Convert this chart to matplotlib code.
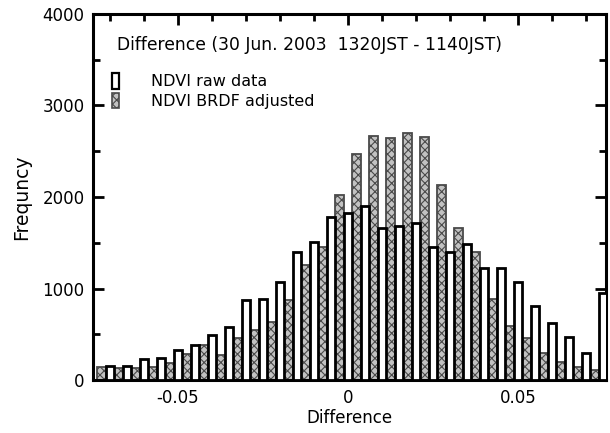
import numpy as np
import matplotlib.pyplot as plt
from matplotlib.patches import Patch

plt.rcParams['font.family'] = ['DejaVu Sans']
plt.rcParams['hatch.linewidth'] = 0.8

# bin centres (raw bars on the 0.005 grid, adjusted bars shifted half a bin)
raw_x = np.round(np.arange(-0.07, 0.0751, 0.005), 4)
adj_x = np.round(np.arange(-0.0725, 0.0726, 0.005), 4)

raw_counts = [150, 160, 230, 240, 330, 380, 490, 580, 870, 890,
              1070, 1400, 1505, 1780, 1825, 1900, 1665, 1680, 1720, 1455,
              1395, 1490, 1230, 1220, 1075, 810, 620, 470, 295, 950]
adj_counts = [140, 130, 130, 140, 185, 290, 380, 270, 460, 545,
              635, 875, 1260, 1450, 2020, 2470, 2670, 2640, 2700, 2660,
              2130, 1660, 1400, 890, 590, 465, 295, 195, 140, 110]

x_ticks = [-0.05, 0, 0.05]
x_ticklabels = ['-0.05', '0', '0.05']
y_ticks = [0, 1000, 2000, 3000, 4000]

fig = plt.figure(figsize=(6.1, 4.33), dpi=100)
ax = fig.add_axes([0.152, 0.122, 0.841, 0.846])

ax.bar(adj_x, adj_counts, width=0.0027, color='#c2c2c2', edgecolor='#4a4a4a',
       linewidth=1.3, hatch='xxxx', zorder=2)
ax.bar(raw_x, raw_counts, width=0.0024, color='white', edgecolor='black',
       linewidth=2.0, zorder=3)

ax.set_xlim(-0.075, 0.0758)
ax.set_ylim(0, 4000)
ax.set_xticks(x_ticks)
ax.set_xticklabels(x_ticklabels)
ax.set_xticks(np.arange(-0.07, 0.0751, 0.01), minor=True)
ax.set_yticks(y_ticks)
ax.set_yticks(np.arange(500, 4000, 1000), minor=True)

ax.tick_params(which='both', direction='in', top=True, right=True,
               labelsize=12, width=2, pad=6)
ax.tick_params(which='major', length=8)
ax.tick_params(which='minor', length=5)
for s in ax.spines.values():
    s.set_linewidth(2.2)

ax.set_xlabel('Difference', fontsize=12, labelpad=2)
ax.set_ylabel('Frequncy', fontsize=13.5, labelpad=8)

ax.text(0.047, 0.915, 'Difference (30 Jun. 2003  1320JST - 1140JST)',
        transform=ax.transAxes, fontsize=12.3, va='center', ha='left')

handles = [Patch(facecolor='white', edgecolor='black', linewidth=1.6),
           Patch(facecolor='#c2c2c2', edgecolor='#4a4a4a', hatch='xxxx',
                 linewidth=1.2)]
ax.legend(handles, ['NDVI raw data', 'NDVI BRDF adjusted'],
          loc='upper left', bbox_to_anchor=(0.025, 0.855), frameon=False,
          fontsize=11.5, handlelength=0.45, handleheight=1.1,
          handletextpad=2.0, labelspacing=0.2, borderaxespad=0)

fig.savefig('out.png', dpi=100)
